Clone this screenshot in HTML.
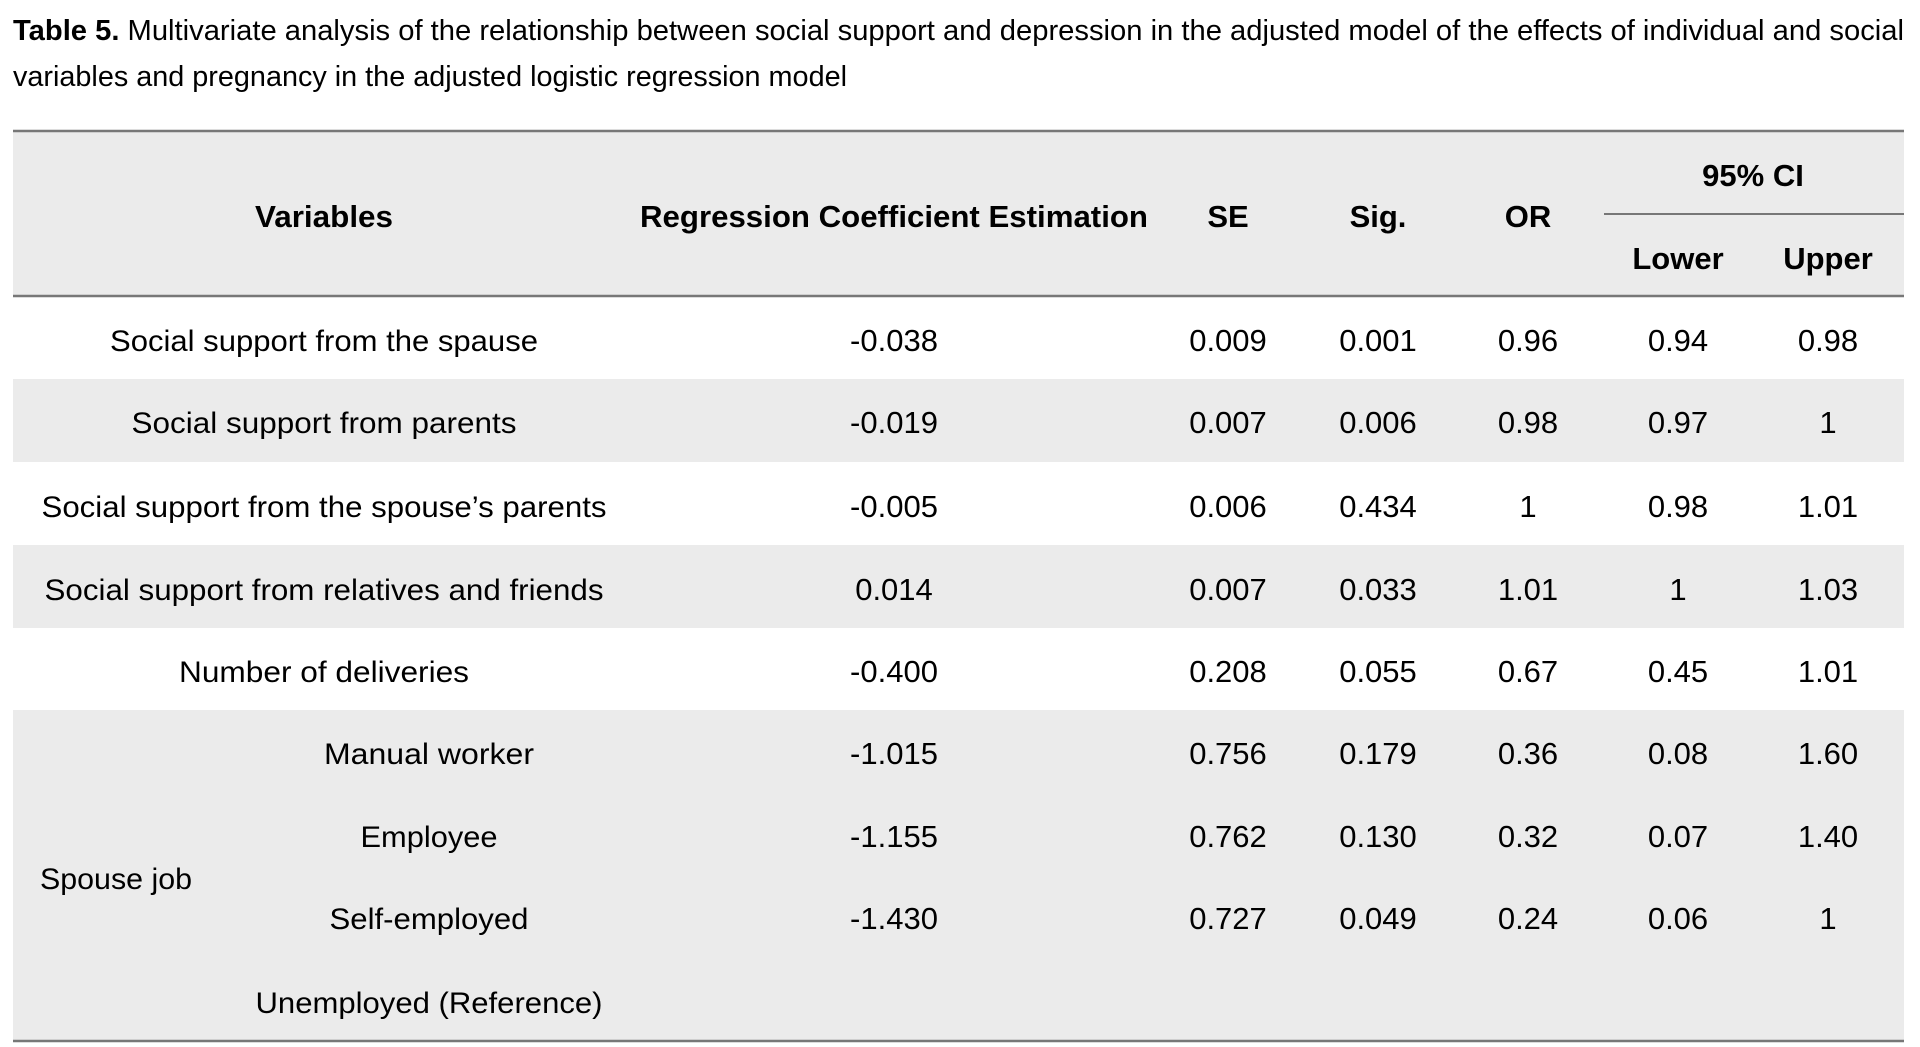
<!DOCTYPE html>
<html><head><meta charset="utf-8"><style>
html,body{margin:0;padding:0;background:#fff;}
svg{display:block;}
text{font-family:"Liberation Sans",sans-serif;fill:#000;}
</style></head><body>
<svg width="1920" height="1047" viewBox="0 0 1920 1047" xmlns="http://www.w3.org/2000/svg">
<text x="13" y="40" font-size="29" textLength="1891" lengthAdjust="spacingAndGlyphs"><tspan font-weight="bold">Table 5.</tspan> Multivariate analysis of the relationship between social support and depression in the adjusted model of the effects of individual and social</text>
<text x="13" y="86" font-size="29" textLength="834" lengthAdjust="spacingAndGlyphs">variables and pregnancy in the adjusted logistic regression model</text>
<rect x="13" y="131" width="1891" height="165" fill="#ebebeb"/>
<rect x="13" y="379" width="1891" height="83" fill="#ebebeb"/>
<rect x="13" y="545" width="1891" height="83" fill="#ebebeb"/>
<rect x="13" y="710" width="1891" height="331" fill="#ebebeb"/>
<line x1="13" y1="131" x2="1904" y2="131" stroke="#777" stroke-width="2.5"/>
<line x1="1604" y1="214" x2="1904" y2="214" stroke="#777" stroke-width="2"/>
<line x1="13" y1="296" x2="1904" y2="296" stroke="#777" stroke-width="2.5"/>
<line x1="13" y1="1041" x2="1904" y2="1041" stroke="#777" stroke-width="2.5"/>
<g font-size="31" font-weight="bold" text-anchor="middle">
<text x="324" y="227" textLength="138" lengthAdjust="spacingAndGlyphs">Variables</text>
<text x="894" y="227" textLength="508" lengthAdjust="spacingAndGlyphs">Regression Coefficient Estimation</text>
<text x="1228" y="227">SE</text>
<text x="1378" y="227">Sig.</text>
<text x="1528" y="227">OR</text>
<text x="1753" y="186">95% CI</text>
<text x="1678" y="269">Lower</text>
<text x="1828" y="269">Upper</text>
</g>
<g font-size="30" text-anchor="middle">
<text x="324" y="351" textLength="428" lengthAdjust="spacingAndGlyphs">Social support from the spause</text>
<text x="324" y="433" textLength="385" lengthAdjust="spacingAndGlyphs">Social support from parents</text>
<text x="324" y="517" textLength="565" lengthAdjust="spacingAndGlyphs">Social support from the spouse’s parents</text>
<text x="324" y="600" textLength="559" lengthAdjust="spacingAndGlyphs">Social support from relatives and friends</text>
<text x="324" y="682" textLength="290" lengthAdjust="spacingAndGlyphs">Number of deliveries</text>
<text x="429" y="764" textLength="210" lengthAdjust="spacingAndGlyphs">Manual worker</text>
<text x="429" y="847" textLength="137" lengthAdjust="spacingAndGlyphs">Employee</text>
<text x="429" y="929" textLength="199" lengthAdjust="spacingAndGlyphs">Self-employed</text>
<text x="429" y="1013" textLength="347" lengthAdjust="spacingAndGlyphs">Unemployed (Reference)</text>
<text x="40" y="889" text-anchor="start" textLength="152" lengthAdjust="spacingAndGlyphs">Spouse job</text>
</g>
<g font-size="31" text-anchor="middle">
<text x="894" y="351">-0.038</text><text x="1228" y="351">0.009</text><text x="1378" y="351">0.001</text><text x="1528" y="351">0.96</text><text x="1678" y="351">0.94</text><text x="1828" y="351">0.98</text>
<text x="894" y="433">-0.019</text><text x="1228" y="433">0.007</text><text x="1378" y="433">0.006</text><text x="1528" y="433">0.98</text><text x="1678" y="433">0.97</text><text x="1828" y="433">1</text>
<text x="894" y="517">-0.005</text><text x="1228" y="517">0.006</text><text x="1378" y="517">0.434</text><text x="1528" y="517">1</text><text x="1678" y="517">0.98</text><text x="1828" y="517">1.01</text>
<text x="894" y="600">0.014</text><text x="1228" y="600">0.007</text><text x="1378" y="600">0.033</text><text x="1528" y="600">1.01</text><text x="1678" y="600">1</text><text x="1828" y="600">1.03</text>
<text x="894" y="682">-0.400</text><text x="1228" y="682">0.208</text><text x="1378" y="682">0.055</text><text x="1528" y="682">0.67</text><text x="1678" y="682">0.45</text><text x="1828" y="682">1.01</text>
<text x="894" y="764">-1.015</text><text x="1228" y="764">0.756</text><text x="1378" y="764">0.179</text><text x="1528" y="764">0.36</text><text x="1678" y="764">0.08</text><text x="1828" y="764">1.60</text>
<text x="894" y="847">-1.155</text><text x="1228" y="847">0.762</text><text x="1378" y="847">0.130</text><text x="1528" y="847">0.32</text><text x="1678" y="847">0.07</text><text x="1828" y="847">1.40</text>
<text x="894" y="929">-1.430</text><text x="1228" y="929">0.727</text><text x="1378" y="929">0.049</text><text x="1528" y="929">0.24</text><text x="1678" y="929">0.06</text><text x="1828" y="929">1</text>
</g>
</svg>
</body></html>
